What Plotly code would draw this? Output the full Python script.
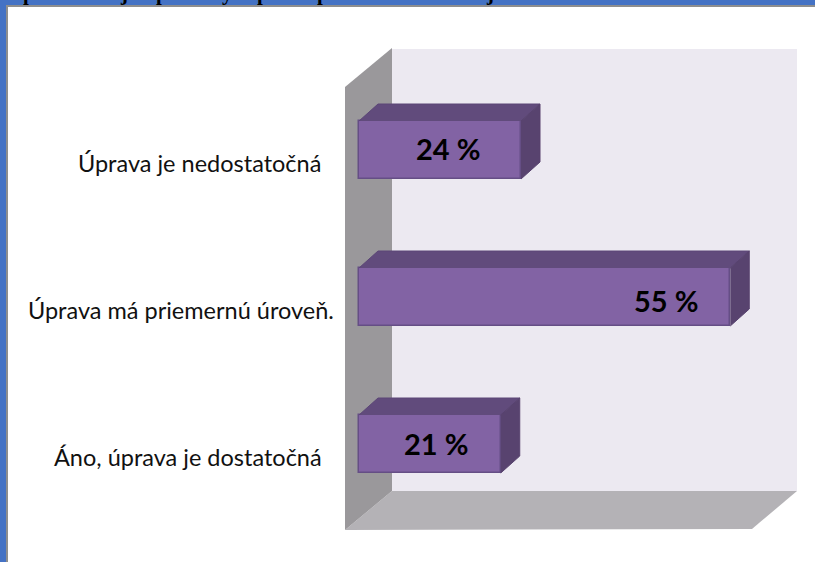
import plotly.graph_objects as go

categories = ["Áno, úprava je dostatočná", "Úprava má priemernú úroveň.", "Úprava je nedostatočná"]
values = [21, 55, 24]
value_labels = ["21 %", "55 %", "24 %"]
cat_shift = [-35, -23, -36]
label_gap = [-31, -30, -39]
label_lift = [1, -3, 2]
clipped_glyphs = ["p", "j", "p", "y", "p", "p", "j"]
clipped_glyph_x = [29, 124, 162, 227, 263, 323, 490]

W, H = 815, 562
X0, XS = 359, 6.75
Y0, YS = 444, 147
BAR_W = 58 / YS
DX, DY = 19 / XS, 17 / YS


def px(x):
    return x / W


def py(y):
    return 1 - y / H


def poly(pts, color):
    path = "M " + " L ".join(f"{px(a):.5f},{py(b):.5f}" for a, b in pts) + " Z"
    return dict(type="path", xref="paper", yref="paper", path=path, fillcolor=color,
                line=dict(width=0), layer="below")


shapes = [
    poly([(392, 49), (797, 49), (797, 491), (392, 491)], "#ECE9F1"),
    poly([(345, 530), (392, 491), (797, 491), (752, 529)], "#B4B2B6"),
    poly([(345, 87), (392, 48), (392, 491), (345, 530)], "#9A989B"),
    poly([(0, 0), (815, 0), (815, 5), (6, 5), (6, 562), (0, 562)], "#4472C4"),
    poly([(6, 5), (815, 5), (815, 7), (8, 7), (8, 562), (6, 562)], "#8E8E8E"),
]

fig = go.Figure()
for i, v in enumerate(values):
    t, b = i + BAR_W / 2, i - BAR_W / 2
    fig.add_trace(go.Scatter(x=[0, DX, v + DX, v], y=[t, t + DY, t + DY, t], mode="lines",
                             fill="toself", fillcolor="#614B7C", line=dict(color="#5C4777", width=1),
                             hoverinfo="skip", showlegend=False))
    fig.add_trace(go.Scatter(x=[v, v + DX, v + DX, v], y=[t, t + DY, b + DY, b], mode="lines",
                             fill="toself", fillcolor="#58436F", line=dict(color="#58436F", width=1),
                             hoverinfo="skip", showlegend=False))

fig.add_trace(go.Bar(y=list(range(len(values))), x=values, orientation="h", width=BAR_W,
                     marker=dict(color="#8263A4", line=dict(color="#654E85", width=1.5)),
                     hoverinfo="skip", showlegend=False))

annotations = []
for i, c in enumerate(categories):
    annotations.append(dict(x=0, y=i, xref="x", yref="y", text=c, showarrow=False, xanchor="right",
                            xshift=cat_shift[i], yshift=-13,
                            font=dict(family="Lato", size=23.5, color="#111111")))
    annotations.append(dict(x=values[i], y=i, xref="x", yref="y", text=f"<b>{value_labels[i]}</b>",
                            showarrow=False, xanchor="right", xshift=label_gap[i], yshift=label_lift[i],
                            font=dict(family="Lato", size=29, color="#000000")))
for g, gx in zip(clipped_glyphs, clipped_glyph_x):
    annotations.append(dict(x=px(gx), y=py(6), xref="paper", yref="paper", text=f"<b>{g}</b>",
                            showarrow=False, xanchor="center", yanchor="bottom", borderpad=0,
                            font=dict(family="Liberation Serif", size=21, color="#000000")))

fig.update_layout(
    width=W, height=H, margin=dict(l=0, r=0, t=0, b=0),
    paper_bgcolor="#FFFFFF", plot_bgcolor="rgba(0,0,0,0)",
    shapes=shapes, annotations=annotations, bargap=0,
    xaxis=dict(range=[-X0 / XS, (W - X0) / XS], visible=False, fixedrange=True),
    yaxis=dict(range=[(Y0 - H) / YS, Y0 / YS], visible=False, fixedrange=True),
)
fig.write_html("out.html", config=dict(displayModeBar=False),
               post_script="document.body.style.margin='0';document.body.style.overflow='hidden';")
